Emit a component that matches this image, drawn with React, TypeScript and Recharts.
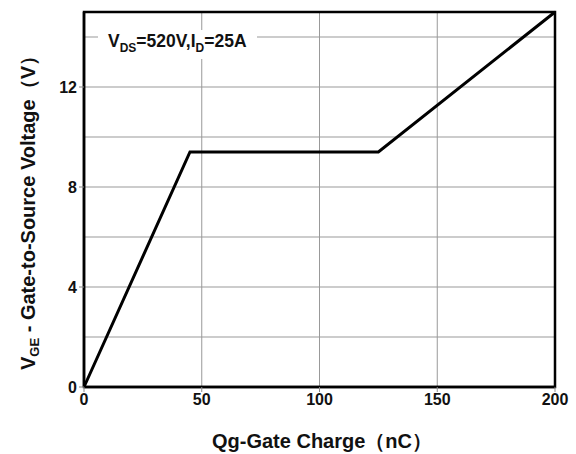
import React from 'react';
import { LineChart, Line, XAxis, YAxis, CartesianGrid, ReferenceArea, Label } from 'recharts';

const charge = [0, 45, 125, 200];
const voltage = [0, 9.4, 9.4, 15];
const xTicks = [0, 50, 100, 150, 200];
const yTicks = [0, 4, 8, 12];
const hGrid = [2, 4, 6, 8, 10, 12, 14];
const vGrid = [50, 100, 150];

const data = charge.map((q, i) => ({ q, v: voltage[i] }));

const font = 'Arial, "Liberation Sans", sans-serif';

export default function App() {
  return (
    <div style={{ position: 'absolute', left: 0, top: 0, width: 576, height: 454, background: '#fff' }}>
      <LineChart width={576} height={454} data={data} margin={{ top: 12, right: 21, bottom: 37, left: 24 }}>
        <CartesianGrid horizontalValues={hGrid} verticalValues={vGrid} stroke="#999" strokeWidth={1} />
        <XAxis
          dataKey="q"
          type="number"
          domain={[0, 200]}
          ticks={xTicks}
          height={30}
          axisLine={{ stroke: '#000', strokeWidth: 2.5 }}
          tickLine={{ stroke: '#888' }}
          tickSize={5}
          tick={{ fill: '#111', fontSize: 16, fontWeight: 'bold', fontFamily: font }}
        >
          <Label
            content={() => (
              <text x={322} y={448} textAnchor="middle" fontSize={20} fontWeight="bold" fontFamily={font} fill="#111">
                Qg-Gate Charge（nC）
              </text>
            )}
          />
        </XAxis>
        <YAxis
          type="number"
          domain={[0, 15]}
          ticks={yTicks}
          width={60}
          axisLine={{ stroke: '#000', strokeWidth: 2.5 }}
          tickLine={{ stroke: '#888' }}
          tickSize={5}
          tick={{ fill: '#111', fontSize: 16, fontWeight: 'bold', fontFamily: font }}
        >
          <Label
            content={() => (
              <text
                x={35}
                y={208}
                transform="rotate(-90 35 208)"
                textAnchor="middle"
                fontSize={20}
                fontWeight="bold"
                fontFamily={font}
                fill="#111"
              >
                V<tspan fontSize={13} dy={4}>GE</tspan>
                <tspan dy={-4}> - Gate-to-Source Voltage（V）</tspan>
              </text>
            )}
          />
        </YAxis>
        <Line dataKey="v" stroke="#000" strokeWidth={3} dot={false} isAnimationActive={false} />
        <ReferenceArea x1={0} x2={200} y1={0} y2={15} fill="none" stroke="#000" strokeWidth={2.5} ifOverflow="visible" />
      </LineChart>
      <div
        style={{
          position: 'absolute',
          left: 98,
          top: 30,
          background: '#fff',
          padding: '0 10px',
          fontFamily: font,
          fontWeight: 'bold',
          fontSize: 17.5,
          lineHeight: '22px',
          color: '#111',
          whiteSpace: 'nowrap',
        }}
      >
        V<sub style={{ fontSize: 12 }}>DS</sub>=520V,I<sub style={{ fontSize: 12 }}>D</sub>=25A
      </div>
    </div>
  );
}
